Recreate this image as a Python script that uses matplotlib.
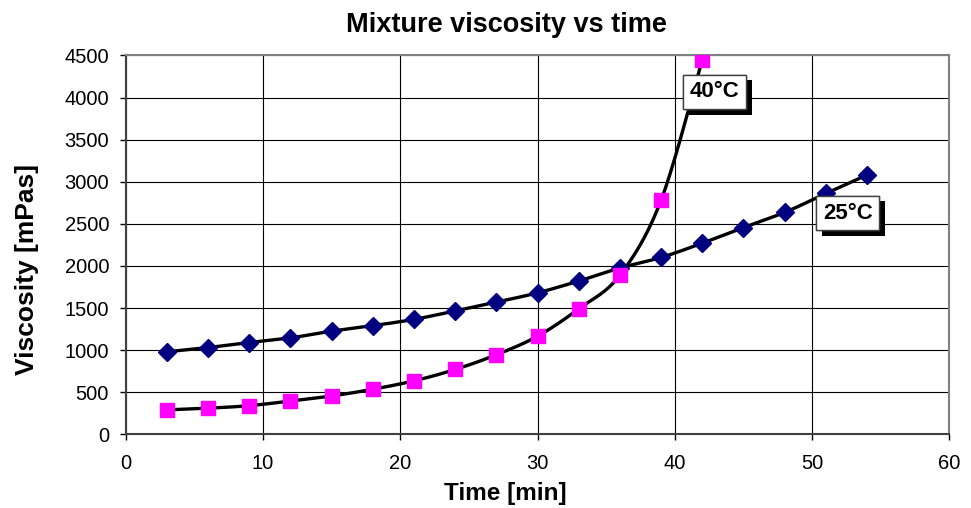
import numpy as np
import matplotlib
matplotlib.use('Agg')
import matplotlib.pyplot as plt
import matplotlib.patheffects as pe

plt.rcParams['font.family'] = ['Liberation Sans', 'DejaVu Sans']

# data
time_25 = [3, 6, 9, 12, 15, 18, 21, 24, 27, 30, 33, 36, 39, 42, 45, 48, 51, 54]
visc_25 = [980, 1030, 1090, 1145, 1225, 1290, 1365, 1465, 1570, 1680, 1820, 1975, 2100, 2270, 2455, 2635, 2860, 3080]
time_40 = [3, 6, 9, 12, 15, 18, 21, 24, 27, 30, 33, 36, 39, 42]
visc_40 = [290, 310, 340, 395, 455, 535, 635, 770, 945, 1165, 1490, 1890, 2780, 4450]

x_ticks = [0, 10, 20, 30, 40, 50, 60]
y_ticks = [0, 500, 1000, 1500, 2000, 2500, 3000, 3500, 4000, 4500]


def smooth(x, y, n=20):
    # Excel-like smoothed line through the points (bezier segments)
    x = np.asarray(x, float)
    y = np.asarray(y, float)
    px, py = [], []
    for i in range(len(x) - 1):
        i0 = max(i - 1, 0)
        i3 = min(i + 2, len(x) - 1)
        c1x = x[i] + (x[i + 1] - x[i0]) / 6
        c1y = y[i] + (y[i + 1] - y[i0]) / 6
        c2x = x[i + 1] - (x[i3] - x[i]) / 6
        c2y = y[i + 1] - (y[i3] - y[i]) / 6
        t = np.linspace(0, 1, n)
        px.extend((1 - t)**3 * x[i] + 3 * (1 - t)**2 * t * c1x + 3 * (1 - t) * t**2 * c2x + t**3 * x[i + 1])
        py.extend((1 - t)**3 * y[i] + 3 * (1 - t)**2 * t * c1y + 3 * (1 - t) * t**2 * c2y + t**3 * y[i + 1])
    return px, py


fig = plt.figure(figsize=(9.71, 5.08), dpi=100)
ax = fig.add_axes([0.1295, 0.1451, 0.8482, 0.7458])

sx, sy = smooth(time_25, visc_25)
ax.plot(sx, sy, color='black', lw=2.4, zorder=3)
ax.plot(time_25, visc_25, ls='none', marker='D', ms=9, color='#000080', zorder=4)

sx, sy = smooth(time_40, visc_40)
ax.plot(sx, sy, color='black', lw=2.4, zorder=3)
ax.plot(time_40, visc_40, ls='none', marker='s', ms=10, color='#FF00FF', zorder=4)

ax.set_xlim(0, 60)
ax.set_ylim(0, 4500)
ax.set_xticks(x_ticks)
ax.set_yticks(y_ticks)
ax.grid(True, color='black', lw=0.8)
ax.set_axisbelow(True)
ax.tick_params(direction='out', length=4, width=1, labelsize=14.5)
ax.tick_params(axis='x', pad=10)
ax.tick_params(axis='y', pad=8)
for s in ['top', 'right']:
    ax.spines[s].set_color('#808080')
    ax.spines[s].set_linewidth(1.5)
for s in ['left', 'bottom']:
    ax.spines[s].set_color('#404040')
    ax.spines[s].set_linewidth(1.5)

ax.set_title('Mixture viscosity vs time', fontsize=19.5, fontweight='bold', pad=17, x=0.4625)
ax.set_xlabel('Time [min]', fontsize=17.5, fontweight='bold')
ax.set_ylabel('Viscosity [mPas]', fontsize=19, fontweight='bold')
ax.xaxis.set_label_coords(0.461, -0.155)
ax.yaxis.set_label_coords(-0.12, 0.434)
ax.xaxis.label.set_va('center')
ax.yaxis.label.set_va('center')

for label, (lx, ly) in [('40°C', (42.9, 4066)), ('25°C', (52.6, 2628))]:
    t = ax.text(lx, ly, label, fontsize=16, fontweight='bold', ha='center', va='center', zorder=6,
                bbox=dict(boxstyle='square,pad=0.3', fc='white', ec='#404040', lw=1))
    t.get_bbox_patch().set_path_effects([pe.withSimplePatchShadow(offset=(4, -4), shadow_rgbFace='black', alpha=1),
                                         pe.Normal()])

fig.savefig('out.png', dpi=100)
